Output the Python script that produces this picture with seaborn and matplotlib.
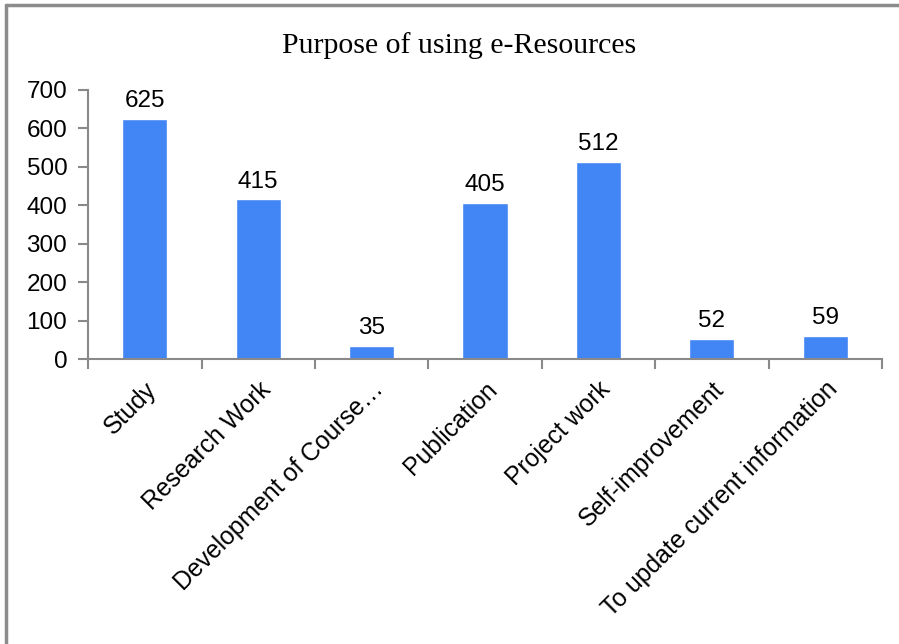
import matplotlib
matplotlib.use("Agg")
import matplotlib.pyplot as plt
import pandas as pd
import seaborn as sns
from matplotlib.lines import Line2D

purposes = ["Study", "Research Work", "Development of Course\u2026", "Publication",
            "Project work", "Self-improvement", "To update current information"]
counts = [625, 415, 35, 405, 512, 52, 59]
y_ticks = [0, 100, 200, 300, 400, 500, 600, 700]

bar_color = "#4285F4"
axis_grey = "#898989"

df = pd.DataFrame({"purpose": purposes, "count": counts})

sns.set_theme(style="white")
plt.rcParams["font.family"] = ["Liberation Sans", "DejaVu Sans"]
plt.rcParams["text.color"] = "black"
plt.rcParams["xtick.labelcolor"] = "black"
plt.rcParams["ytick.labelcolor"] = "black"

fig = plt.figure(figsize=(8.99, 6.44), dpi=100)
ax = fig.add_axes([0.098, 0.4425, 0.883, 0.418])

sns.barplot(data=df, x="purpose", y="count", color=bar_color, width=0.4,
            saturation=1, ax=ax)

# value labels
for i, v in enumerate(counts):
    ax.text(i, v + 18, str(v), ha="center", va="bottom", fontsize=17.5, color="black")

ax.set_ylim(0, 700)
ax.set_xlim(-0.5, len(purposes) - 0.5)
ax.set_yticks(y_ticks)
ax.set_yticklabels([str(t) for t in y_ticks], fontsize=17.5)
ax.set_xlabel("")
ax.set_ylabel("")

# category labels at bar centres, tick marks at category boundaries
ax.set_xticks(range(len(purposes)))
ax.set_xticklabels(purposes, rotation=45, ha="right", rotation_mode="anchor", fontsize=17.8)
ax.set_xticks([i - 0.5 for i in range(len(purposes) + 1)], minor=True)
ax.tick_params(axis="x", which="major", length=0, pad=13, bottom=True, labelcolor="black")
ax.tick_params(axis="x", which="minor", length=7, width=1.5, color=axis_grey,
               direction="out", bottom=True)
ax.tick_params(axis="y", length=7, width=1.5, color=axis_grey, direction="out", pad=8,
               left=True, labelcolor="black")

for side in ["top", "right"]:
    ax.spines[side].set_visible(False)
for side in ["left", "bottom"]:
    ax.spines[side].set_color(axis_grey)
    ax.spines[side].set_linewidth(1.5)

fig.text(0.511, 0.93, "Purpose of using e-Resources", ha="center", va="center",
         fontsize=21.5, family="Liberation Serif", color="black")

# outer frame (top and left edges)
fig.add_artist(Line2D([0.007, 1.0], [0.992, 0.992], color="#8c8c8c", lw=2.5,
                      transform=fig.transFigure))
fig.add_artist(Line2D([0.007, 0.007], [0.0, 0.992], color="#8c8c8c", lw=2.5,
                      transform=fig.transFigure))

fig.savefig("out.png", dpi=100, facecolor="white")
